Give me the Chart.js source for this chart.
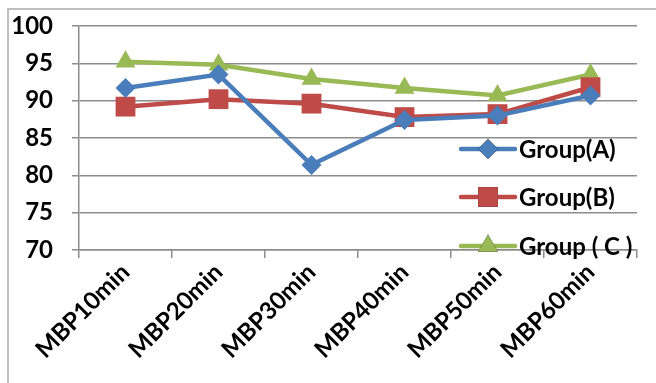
<!DOCTYPE html>
<html>
<head>
<meta charset="utf-8">
<script src="https://cdn.jsdelivr.net/npm/chart.js@4.4.1/dist/chart.umd.min.js"></script>
<style>
  html, body { margin: 0; padding: 0; background: #fff; }
  #wrap { position: relative; width: 656px; height: 383px; overflow: hidden; }
  #frame { position: absolute; left: 7px; top: 8px; width: 700px; height: 400px;
           border-left: 2px solid #bfbfbf; border-top: 2px solid #bfbfbf; box-sizing: border-box; }
  canvas { position: absolute; left: 0; top: 0; }
</style>
</head>
<body>
<div id="wrap">
  <div id="frame"></div>
  <canvas id="chart" width="656" height="383"></canvas>
</div>
<script>
const categories = ['MBP10min', 'MBP20min', 'MBP30min', 'MBP40min', 'MBP50min', 'MBP60min'];
const groupA = [91.7, 93.5, 81.4, 87.4, 88.0, 90.7];
const groupB = [89.2, 90.2, 89.6, 87.8, 88.2, 91.8];
const groupC = [95.2, 94.8, 92.9, 91.7, 90.7, 93.5];
const seriesNames = ['Group(A)', 'Group(B)', 'Group ( C )'];
const yTicks = [70, 75, 80, 85, 90, 95, 100];

const FONT = 'Lato, "DejaVu Sans", sans-serif';
const GRID = '#8c8c8c';

// legend drawn inside the plot area, on top of everything
const insideLegend = {
    id: 'insideLegend',
    afterDraw(chart) {
        const ctx = chart.ctx;
        const rows = [149, 197, 246];
        chart.data.datasets.forEach((ds, i) => {
            const y = rows[i];
            ctx.save();
            ctx.strokeStyle = ds.borderColor;
            ctx.lineWidth = 4.5;
            ctx.lineCap = 'round';
            ctx.beginPath();
            ctx.moveTo(461, y);
            ctx.lineTo(515, y);
            ctx.stroke();
            Chart.helpers.drawPoint(ctx, {
                pointStyle: ds.pointStyle,
                radius: ds.pointRadius,
                borderWidth: 0
            }, 488, y);
            ctx.fillStyle = ds.pointBackgroundColor;
            ctx.fill();
            ctx.fillStyle = '#000';
            ctx.font = 'bold 24px ' + FONT;
            ctx.textBaseline = 'middle';
            ctx.fillText(ds.label, 519, y + 1);
            ctx.restore();
        });
    }
};

new Chart(document.getElementById('chart'), {
    type: 'line',
    data: {
        labels: categories,
        datasets: [
            { label: seriesNames[0], data: groupA, borderColor: '#4a7ebb', pointBackgroundColor: '#4a7ebb',
              pointBorderColor: '#4a7ebb', pointStyle: 'rectRot', pointRadius: 10 },
            { label: seriesNames[1], data: groupB, borderColor: '#be4b48', pointBackgroundColor: '#be4b48',
              pointBorderColor: '#be4b48', pointStyle: 'rect', pointRadius: 14 },
            { label: seriesNames[2], data: groupC, borderColor: '#98b954', pointBackgroundColor: '#98b954',
              pointBorderColor: '#98b954', pointStyle: 'triangle', pointRadius: 11.5 }
        ].map(d => Object.assign(d, { borderWidth: 4.5, tension: 0, pointBorderWidth: 0, fill: false }))
    },
    options: {
        responsive: false,
        animation: false,
        events: [],
        layout: { autoPadding: false, padding: { left: 0, top: 26, right: 19, bottom: 0 } },
        plugins: { legend: { display: false }, tooltip: { enabled: false } },
        scales: {
            x: {
                offset: true,
                grid: { display: true, drawOnChartArea: false, drawTicks: true, tickLength: 8,
                        offset: true, color: GRID, lineWidth: 1.5 },
                border: { color: GRID, width: 1.5 },
                ticks: { color: '#000', font: { family: FONT, size: 24, weight: 'bold' },
                         minRotation: 45, maxRotation: 45, padding: 0, autoSkip: false },
                afterFit(scale) { scale.height = 133; }
            },
            y: {
                min: 70,
                max: 100,
                afterBuildTicks(scale) { scale.ticks = yTicks.map(v => ({ value: v })); },
                grid: { color: GRID, lineWidth: 1.5, drawTicks: true, tickLength: 7 },
                border: { color: GRID, width: 1.5 },
                ticks: { color: '#000', font: { family: FONT, size: 24, weight: 'bold' }, padding: 19 },
                afterFit(scale) {
                    scale.width = 79;
                    scale.paddingTop = 0;
                    scale.paddingBottom = 0;
                }
            }
        }
    },
    plugins: [insideLegend]
});
</script>
</body>
</html>
